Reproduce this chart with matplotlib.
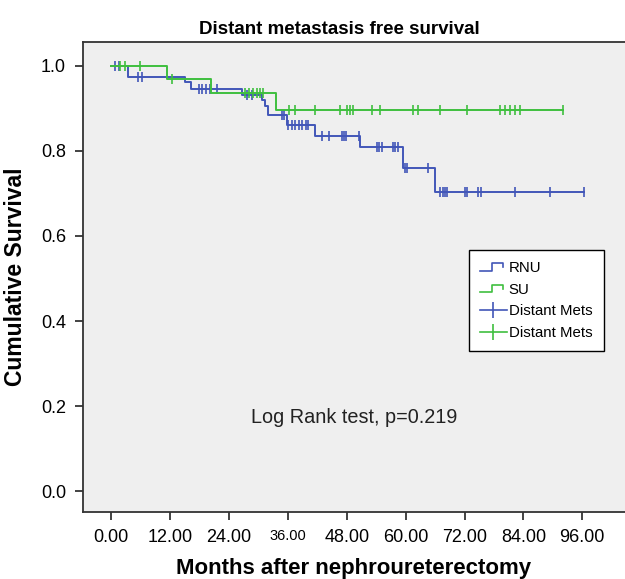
import numpy as np
import matplotlib
matplotlib.use("Agg")
import matplotlib.pyplot as plt
from matplotlib.lines import Line2D
from matplotlib.legend_handler import HandlerBase

plt.rcParams['font.family'] = ['Liberation Sans', 'DejaVu Sans']

# ---------------- data ----------------
# RNU: event times (months) and survival after each event
rnu_event_t = [3.4, 15.1, 16.3, 26.7, 30.7, 31.4, 32.0, 35.8, 41.5, 50.7, 59.5, 66.0]
rnu_event_s = [0.973, 0.962, 0.946, 0.932, 0.920, 0.906, 0.885, 0.861, 0.835, 0.808, 0.760, 0.703]
rnu_censor_t = [0.8, 1.5, 5.4, 6.2, 17.8, 18.5, 19.3, 20.2, 21.5, 27.6, 28.7, 34.8, 35.2,
                36.1, 36.8, 37.5, 38.2, 38.9, 39.6, 40.2, 42.9, 44.3, 47.0, 47.4, 47.9,
                50.6, 54.1, 54.6, 55.1, 57.4, 57.8, 58.4, 59.9, 60.3, 64.6,
                67.0, 67.6, 68.0, 68.5, 72.1, 72.6, 74.8, 75.3, 82.3, 89.4, 96.3]

# SU
su_event_t = [11.3, 20.4, 33.6]
su_event_s = [0.969, 0.936, 0.896]
su_censor_t = [1.8, 2.9, 5.9, 12.4, 27.3, 28.0, 29.0, 29.7, 30.3, 30.9,
               36.3, 37.5, 41.5, 46.6, 48.0, 48.7, 49.3, 53.2, 54.8, 61.5, 62.5,
               67.0, 72.5, 79.2, 80.2, 81.3, 82.3, 83.3, 92.1]

x_ticks = [0, 12, 24, 36, 48, 60, 72, 84, 96]
x_tick_labels = ["0.00", "12.00", "24.00", "36.00", "48.00", "60.00", "72.00", "84.00", "96.00"]
y_ticks = [0.0, 0.2, 0.4, 0.6, 0.8, 1.0]
y_tick_labels = ["0.0", "0.2", "0.4", "0.6", "0.8", "1.0"]

title = "Distant metastasis free survival"
x_label = "Months after nephroureterectomy"
y_label = "Cumulative Survival"
annotation = "Log Rank test, p=0.219"
legend_labels = ["RNU", "SU", "Distant Mets", "Distant Mets"]

BLUE = "#4256b8"
GREEN = "#3fbf3f"

# ---------------- figure ----------------
fig = plt.figure(figsize=(6.25, 5.79), dpi=100)
ax = fig.add_axes([0.1323, 0.1157, 0.8677, 0.8118])
ax.set_facecolor("#efefef")


def km_curve(event_t, event_s, censor_t):
    t = np.concatenate([[0.0], np.asarray(event_t, float)])
    s = np.concatenate([[1.0], np.asarray(event_s, float)])
    end = max(max(censor_t), t[-1])
    t_full = np.concatenate([t, [end]])
    s_full = np.concatenate([s, [s[-1]]])
    ct = np.asarray(censor_t, float)
    idx = np.searchsorted(t, ct, side="right") - 1
    cs = s[idx]
    return t_full, s_full, ct, cs


for et, es, ct_, col in [(rnu_event_t, rnu_event_s, rnu_censor_t, BLUE),
                         (su_event_t, su_event_s, su_censor_t, GREEN)]:
    tf, sf, ct, cs = km_curve(et, es, ct_)
    ax.step(tf, sf, where="post", color=col, lw=1.4)
    ax.plot(ct, cs, ls="none", marker="|", color=col, ms=7, mew=1.2)

ax.set_xlim(-5.8, 104.7)
ax.set_ylim(-0.049, 1.056)
ax.set_xticks(x_ticks)
ax.set_xticklabels(x_tick_labels, fontsize=13)
for lbl in ax.get_xticklabels():
    if lbl.get_text() == "36.00":
        lbl.set_fontsize(10.5)
ax.set_yticks(y_ticks)
ax.set_yticklabels(y_tick_labels, fontsize=13)
ax.tick_params(direction="out", length=6, width=1.2, color="#222222", pad=6)
for side in ["left", "bottom", "top"]:
    ax.spines[side].set_linewidth(1.3)
    ax.spines[side].set_color("#333333")
ax.spines["right"].set_visible(False)

ax.set_title(title, fontsize=13.5, fontweight="bold", pad=6, x=0.474)
ax.set_xlabel(x_label, fontsize=16, fontweight="bold", labelpad=9)
ax.set_ylabel(y_label, fontsize=16.5, fontweight="bold", labelpad=10)

ax.text(49.5, 0.174, annotation, fontsize=14.3, ha="center", va="center", color="#222222")


class StepHandler(HandlerBase):
    def create_artists(self, legend, orig_handle, xdescent, ydescent, width, height, fontsize, trans):
        x0 = -xdescent
        y0 = -ydescent
        xs = [x0, x0 + 0.45 * width, x0 + 0.45 * width, x0 + 0.85 * width, x0 + 0.85 * width]
        ys = [y0 + 0.15 * height, y0 + 0.15 * height, y0 + 0.85 * height, y0 + 0.85 * height, y0 + 0.5 * height]
        ln = Line2D(xs, ys, color=orig_handle.get_color(), lw=1.2, transform=trans)
        return [ln]


h1 = Line2D([], [], color=BLUE)
h2 = Line2D([], [], color=GREEN)
h3 = Line2D([], [], color=BLUE, marker="|", ms=11, mew=1.2, lw=1.2)
h4 = Line2D([], [], color=GREEN, marker="|", ms=11, mew=1.2, lw=1.2)
leg = fig.legend([h1, h2, h3, h4], legend_labels,
                 handler_map={h1: StepHandler(), h2: StepHandler()},
                 loc="upper left", bbox_to_anchor=(469 / 625, 1 - 250 / 579),
                 fontsize=10.8, frameon=True, fancybox=False, edgecolor="black",
                 facecolor="white", framealpha=1, handlelength=1.75, handletextpad=0.15,
                 labelspacing=0.5, borderpad=0.75, borderaxespad=0)
leg.get_frame().set_linewidth(1.0)

fig.savefig("out.png", dpi=100)
